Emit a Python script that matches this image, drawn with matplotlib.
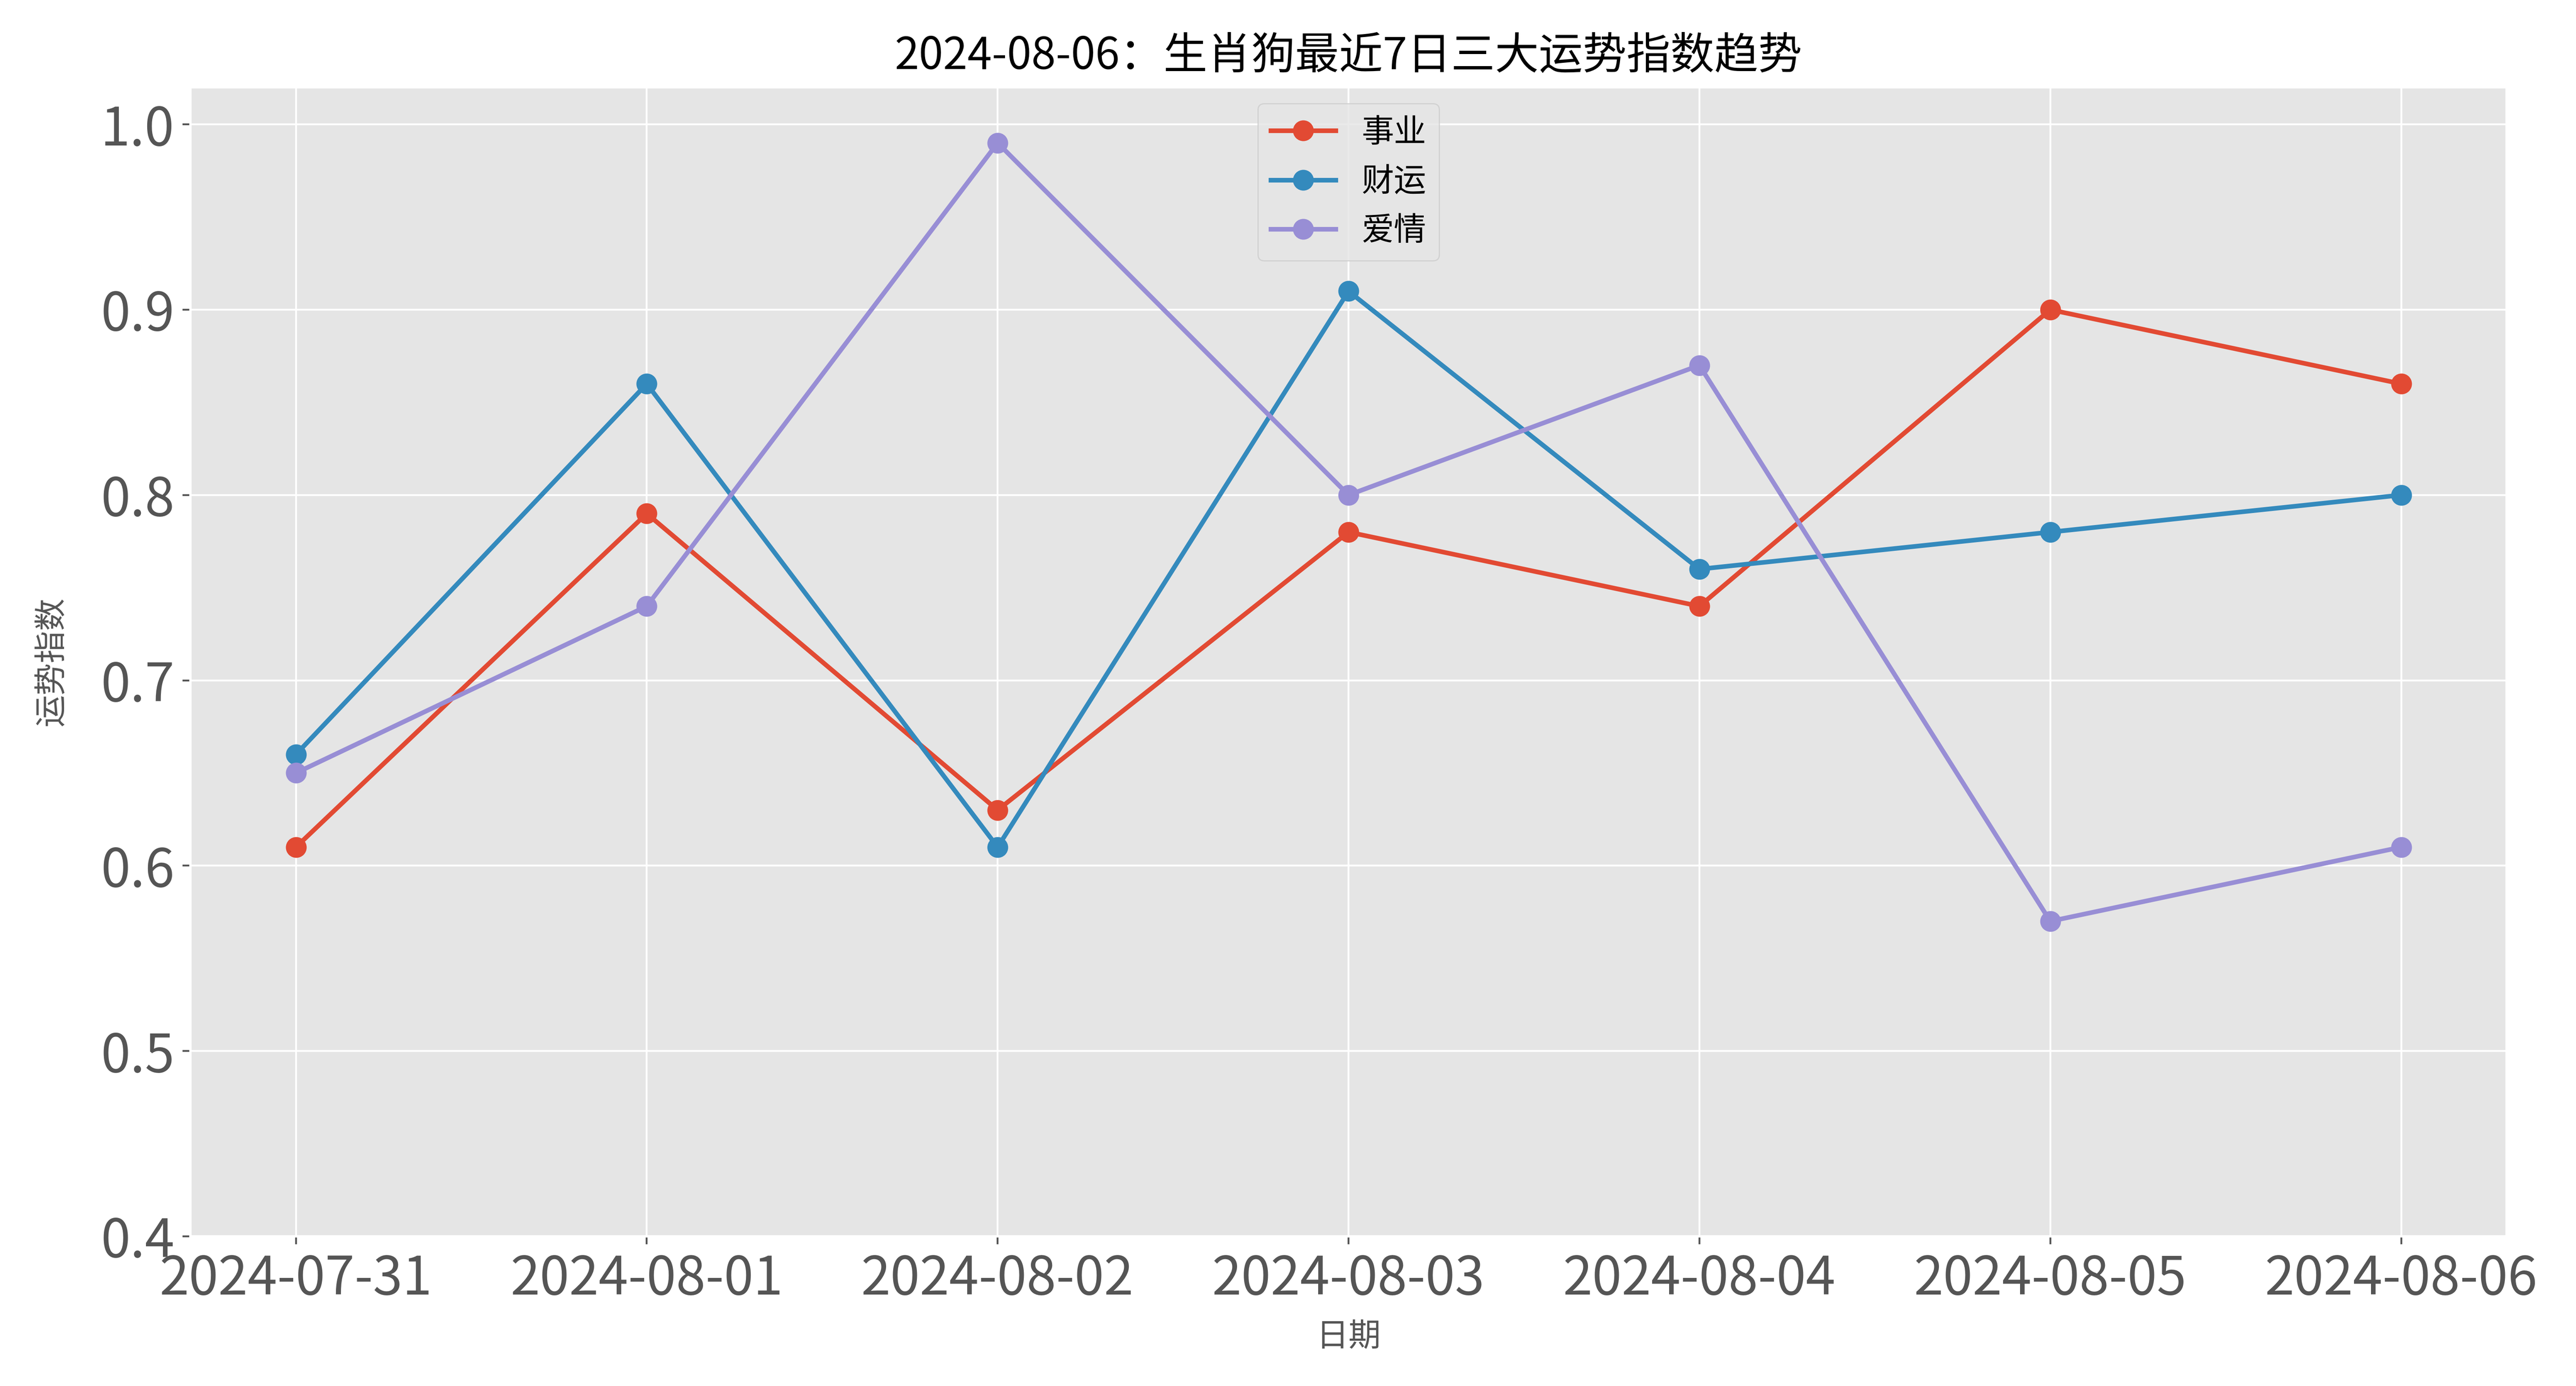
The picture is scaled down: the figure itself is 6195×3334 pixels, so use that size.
import matplotlib
matplotlib.use("Agg")
import matplotlib.pyplot as plt

plt.style.use("ggplot")
plt.rcParams["font.family"] = ["Noto Sans CJK SC", "DejaVu Sans"]
plt.rcParams["axes.unicode_minus"] = False

dates = ["2024-07-31", "2024-08-01", "2024-08-02", "2024-08-03",
         "2024-08-04", "2024-08-05", "2024-08-06"]
career = [0.61, 0.79, 0.63, 0.78, 0.74, 0.90, 0.86]
wealth = [0.66, 0.86, 0.61, 0.91, 0.76, 0.78, 0.80]
love = [0.65, 0.74, 0.99, 0.80, 0.87, 0.57, 0.61]

fig, ax = plt.subplots(figsize=(6195 / 400, 3334 / 400), dpi=400)
fig.subplots_adjust(left=0.074, right=0.973, top=0.937, bottom=0.108)

ax.plot(dates, career, marker="o", markersize=8, linewidth=2, label="事业")
ax.plot(dates, wealth, marker="o", markersize=8, linewidth=2, label="财运")
ax.plot(dates, love, marker="o", markersize=8, linewidth=2, label="爱情")

ax.set_ylim(0.4, 1.02)
ax.set_title("2024-08-06：生肖狗最近7日三大运势指数趋势", fontsize=19,
             fontweight="medium", pad=8)
ax.set_xlabel("日期", fontsize=14, labelpad=6)
ax.set_ylabel("运势指数", fontsize=14, labelpad=14)
ax.tick_params(axis="both", labelsize=23)
ax.legend(loc="upper center", fontsize=14)

fig.savefig("out.png", dpi=400)
